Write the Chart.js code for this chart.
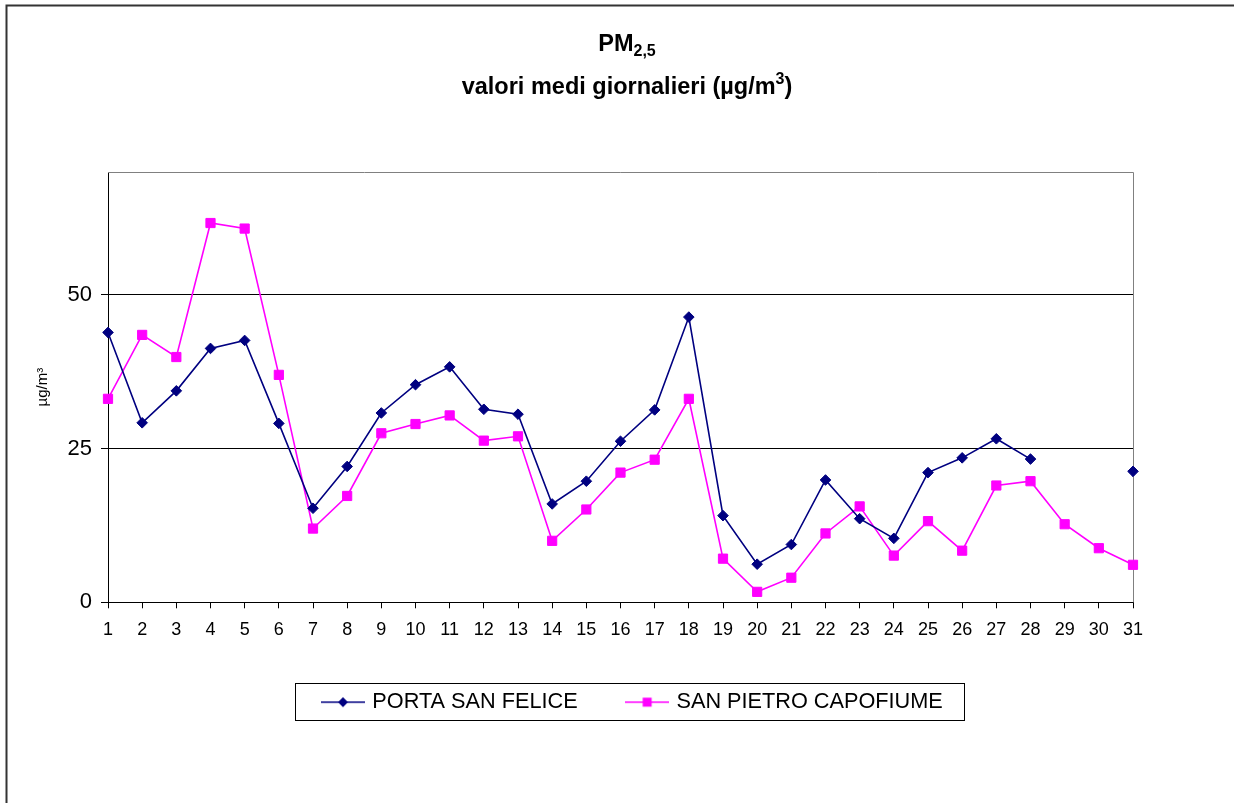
<!DOCTYPE html>
<html>
<head>
<meta charset="utf-8">
<script src="https://cdn.jsdelivr.net/npm/chart.js@4/dist/chart.umd.min.js"></script>
<style>
  html, body { margin: 0; padding: 0; background: #ffffff; }
  #wrap { position: absolute; left: 0; top: 0; width: 1234px; height: 803px; }
  canvas { display: block; }
</style>
</head>
<body>
<div id="wrap"><canvas id="c" width="1234" height="803"></canvas></div>
<script>
// ---- data ----
const days = ['1','2','3','4','5','6','7','8','9','10','11','12','13','14','15','16',
              '17','18','19','20','21','22','23','24','25','26','27','28','29','30','31'];
const portaSanFelice = [43.9, 29.2, 34.4, 41.3, 42.6, 29.1, 15.3, 22.1, 30.8, 35.4, 38.3, 31.4, 30.6,
                        16.0, 19.7, 26.2, 31.3, 46.4, 14.1, 6.2, 9.4, 19.9, 13.6, 10.4, 21.1, 23.5,
                        26.6, 23.3, null, null, 21.3];
const sanPietroCapofiume = [33.1, 43.5, 39.9, 61.7, 60.8, 37.0, 12.0, 17.3, 27.5, 29.0, 30.4, 26.3, 27.0,
                            10.0, 15.1, 21.1, 23.2, 33.1, 7.1, 1.7, 4.0, 11.2, 15.6, 7.6, 13.2, 8.4,
                            19.0, 19.7, 12.7, 8.8, 6.1];
const seriesNames = ['PORTA SAN FELICE', 'SAN PIETRO CAPOFIUME'];
const yTickValues = [0, 25, 50];
const yMin = 0, yMax = 70;

const FONT = '"Liberation Sans", Arial, Helvetica, sans-serif';
const BLUE = '#000080';
const PINK = '#FF00FF';

// legend icons: line with marker in the middle
function makeIcon(color, shape) {
  const c = document.createElement('canvas');
  c.width = 44; c.height = 14;
  const g = c.getContext('2d');
  g.strokeStyle = color; g.lineWidth = 1.5;
  g.beginPath(); g.moveTo(0, 7); g.lineTo(44, 7); g.stroke();
  g.fillStyle = color;
  if (shape === 'diamond') {
    g.beginPath(); g.moveTo(22, 2); g.lineTo(27, 7); g.lineTo(22, 12); g.lineTo(17, 7); g.closePath(); g.fill();
  } else {
    g.fillRect(17.5, 2.5, 9, 9);
  }
  return c;
}
const icons = [makeIcon(BLUE, 'diamond'), makeIcon(PINK, 'square')];

// frame + title with sub/superscripts
const decorPlugin = {
  id: 'decor',
  beforeDraw(chart) {
    const ctx = chart.ctx;
    ctx.save();
    ctx.fillStyle = '#ffffff';
    ctx.fillRect(0, 0, chart.width, chart.height);
    ctx.strokeStyle = '#333333';
    ctx.lineWidth = 2;
    ctx.beginPath();
    ctx.moveTo(6.5, chart.height);
    ctx.lineTo(6.5, 5.5);
    ctx.lineTo(chart.width, 5.5);
    ctx.stroke();
    ctx.restore();
  },
  beforeDatasetsDraw(chart) {
    const ctx = chart.ctx, a = chart.chartArea;
    ctx.save();
    ctx.strokeStyle = '#808080';
    ctx.lineWidth = 1;
    ctx.beginPath();
    ctx.moveTo(a.left, a.top + 0.5);
    ctx.lineTo(a.right + 0.5, a.top + 0.5);
    ctx.lineTo(a.right + 0.5, a.bottom);
    ctx.stroke();
    ctx.restore();
  },
  afterDraw(chart) {
    const ctx = chart.ctx;
    ctx.save();
    ctx.fillStyle = '#000000';
    ctx.textBaseline = 'alphabetic';
    ctx.textAlign = 'left';
    const cx = 627;
    function drawParts(parts, baseline) {
      let w = 0;
      parts.forEach(p => { ctx.font = p.font; p.w = ctx.measureText(p.t).width; w += p.w; });
      let x = cx - w / 2;
      parts.forEach(p => { ctx.font = p.font; ctx.fillText(p.t, x, baseline + p.dy); x += p.w; });
    }
    const big = 'bold 23.5px ' + FONT, small = 'bold 16px ' + FONT;
    drawParts([{t: 'PM', font: big, dy: 0}, {t: '2,5', font: small, dy: 5}], 51);
    drawParts([{t: 'valori medi giornalieri (µg/m', font: big, dy: 0},
               {t: '3', font: small, dy: -10},
               {t: ')', font: big, dy: 0}], 94);

    // legend frame
    const lg = chart.legend;
    if (lg && lg.legendHitBoxes && lg.legendHitBoxes.length) {
      const p = lg.options.labels.padding;
      const start = (lg.left + p + lg.right - lg.lineWidths[0]) / 2;
      const end = start + lg.lineWidths[0] - p;
      const cy = lg.top + p + lg.options.labels.font.size / 2;
      ctx.strokeStyle = '#000000';
      ctx.lineWidth = 1;
      ctx.strokeRect(Math.round(start - 29) + 0.5, Math.round(cy - 19) + 0.5,
                     Math.round(end - start + 29 + 22), 37);
    }
    ctx.restore();
  },
  afterLayout(chart) {
    // shift legend so it is centred like the original
    const lg = chart.legend;
    if (!lg || !lg.lineWidths) return;
    const p = lg.options.labels.padding;
    const start = (lg.left + p + lg.right - lg.lineWidths[0]) / 2;
    const d = 324.5 - start;
    lg.left += d; lg.right += d;
  }
};

new Chart(document.getElementById('c'), {
  type: 'line',
  data: {
    labels: days,
    datasets: [
      {
        label: seriesNames[0],
        data: portaSanFelice,
        borderColor: BLUE,
        backgroundColor: BLUE,
        borderWidth: 1.6,
        pointStyle: 'rectRot',
        pointRadius: 5.3,
        pointHoverRadius: 5.3,
        pointBorderWidth: 1,
        pointBackgroundColor: BLUE,
        pointBorderColor: BLUE,
        spanGaps: false,
        tension: 0,
        fill: false
      },
      {
        label: seriesNames[1],
        data: sanPietroCapofiume,
        borderColor: PINK,
        backgroundColor: PINK,
        borderWidth: 1.6,
        pointStyle: 'rect',
        pointRadius: 6.5,
        pointHoverRadius: 6.5,
        pointBorderWidth: 1,
        pointBackgroundColor: PINK,
        pointBorderColor: PINK,
        spanGaps: false,
        tension: 0,
        fill: false
      }
    ]
  },
  options: {
    responsive: false,
    devicePixelRatio: 1,
    animation: false,
    events: [],
    layout: { padding: { top: 172, right: 101, bottom: 80, left: 0 } },
    plugins: {
      title: { display: false },
      tooltip: { enabled: false },
      legend: {
        display: true,
        position: 'bottom',
        align: 'center',
        labels: {
          usePointStyle: true,
          pointStyleWidth: 37,
          padding: 51,
          color: '#000000',
          font: { family: FONT, size: 21.7 },
          generateLabels(chart) {
            const items = Chart.defaults.plugins.legend.labels.generateLabels(chart);
            items.forEach((it, i) => { it.pointStyle = icons[i]; });
            return items;
          }
        }
      }
    },
    scales: {
      x: {
        type: 'category',
        offset: false,
        afterFit(scale) { scale.height = 38; },
        grid: {
          display: true,
          drawOnChartArea: false,
          drawTicks: true,
          tickLength: 6,
          color: '#000000',
          lineWidth: 1
        },
        border: { display: true, color: '#000000', width: 1 },
        ticks: {
          color: '#000000',
          font: { family: FONT, size: 18 },
          padding: 11,
          maxRotation: 0,
          autoSkip: false
        }
      },
      y: {
        min: yMin,
        max: yMax,
        afterBuildTicks(scale) {
          scale.ticks = yTickValues.map(v => ({ value: v }));
        },
        afterFit(scale) { scale.width = 108; },
        grid: {
          display: true,
          drawOnChartArea: true,
          drawTicks: true,
          tickLength: 7,
          color: '#000000',
          lineWidth: 1
        },
        border: { display: true, color: '#000000', width: 1 },
        ticks: {
          color: '#000000',
          font: { family: FONT, size: 22 },
          padding: 9
        },
        title: {
          display: true,
          text: 'µg/m³',
          color: '#000000',
          font: { family: FONT, size: 15 },
          padding: { top: 34, bottom: 0 }
        }
      }
    }
  },
  plugins: [decorPlugin]
});
</script>
</body>
</html>
